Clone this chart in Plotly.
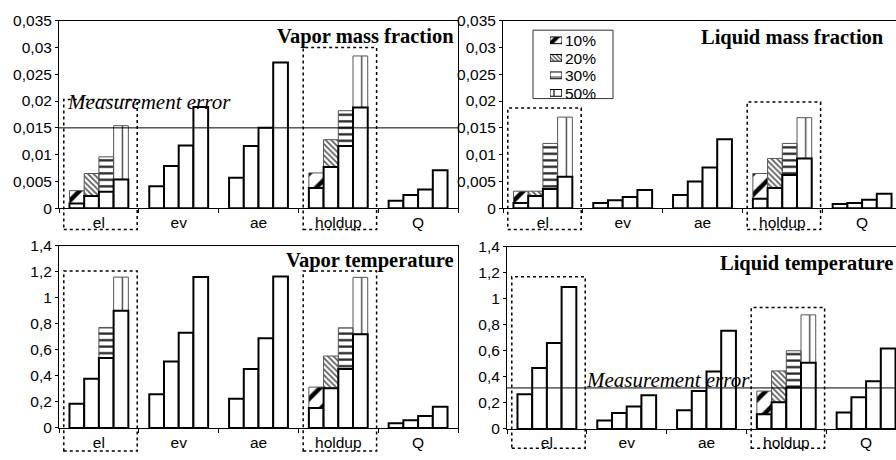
import plotly.graph_objects as go

categories = ["el", "ev", "ae", "holdup", "Q"]
levels = ["10%", "20%", "30%", "50%"]

# ---- Vapor mass fraction (rows = levels, cols = categories)
vmf_base = [
    [0.0009, 0.0041, 0.0057, 0.0038, 0.0014],
    [0.0023, 0.0079, 0.0116, 0.0077, 0.0025],
    [0.0031, 0.0117, 0.0150, 0.0116, 0.0035],
    [0.0054, 0.0189, 0.0272, 0.0188, 0.0071],
]
vmf_top = [
    [0.0033, None, None, 0.0066, None],
    [0.0065, None, None, 0.0128, None],
    [0.0096, None, None, 0.0182, None],
    [0.0154, None, None, 0.0284, None],
]
vmf_box_top = [0.0203, 0.0300]
vmf_error = 0.015

# ---- Liquid mass fraction
lmf_base = [
    [0.0010, 0.0010, 0.0025, 0.0018, 0.0008],
    [0.0023, 0.0015, 0.0050, 0.0038, 0.0010],
    [0.0036, 0.0021, 0.0076, 0.0062, 0.0016],
    [0.0059, 0.0034, 0.0129, 0.0093, 0.0027],
]
lmf_top = [
    [0.0032, None, None, 0.0065, None],
    [0.0032, None, None, 0.0093, None],
    [0.0121, None, None, 0.0121, None],
    [0.0170, None, None, 0.0169, None],
]
lmf_box_top = [0.0187, 0.0198]

# ---- Vapor temperature
vt_base = [
    [0.185, 0.259, 0.225, 0.153, 0.035],
    [0.378, 0.511, 0.454, 0.306, 0.059],
    [0.538, 0.733, 0.689, 0.454, 0.091],
    [0.901, 1.160, 1.165, 0.721, 0.163],
]
vt_top = [
    [None, None, None, 0.314, None],
    [None, None, None, 0.553, None],
    [0.773, None, None, 0.770, None],
    [1.160, None, None, 1.158, None],
]
vt_box_top = [1.207, 1.207]

# ---- Liquid temperature
lt_base = [
    [0.266, 0.064, 0.143, 0.113, 0.126],
    [0.468, 0.123, 0.291, 0.205, 0.244],
    [0.661, 0.173, 0.441, 0.318, 0.367],
    [1.092, 0.259, 0.754, 0.508, 0.619],
]
lt_top = [
    [None, None, None, 0.291, None],
    [None, None, None, 0.446, None],
    [None, None, None, 0.601, None],
    [None, None, None, 0.877, None],
]
lt_box_top = [1.17, 0.933]
lt_error = 0.315

W, H = 896, 460
CAT_PX = 79.8
GROUP_W = 0.7375
BAR_W = GROUP_W / 4

panels = [
    dict(base=vmf_base, top=vmf_top, box=vmf_box_top, x0=59, x1=458, yt=12, yb=207,
         ymax=0.035, dtick=0.005, ymirror=True, boxbot=229),
    dict(base=lmf_base, top=lmf_top, box=lmf_box_top, x0=503, x1=896, yt=12, yb=207,
         ymax=0.035, dtick=0.005, ymirror=False, boxbot=229),
    dict(base=vt_base, top=vt_top, box=vt_box_top, x0=59, x1=458, yt=246, yb=435,
         ymax=1.4, dtick=0.2, ymirror=True, boxbot=459),
    dict(base=lt_base, top=lt_top, box=lt_box_top, x0=507, x1=896, yt=247, yb=436,
         ymax=1.4, dtick=0.2, ymirror=False, boxbot=456),
]

patterns = [
    dict(shape="/", size=15, solidity=0.3, fgcolor="black"),
    dict(shape="\\", size=4, solidity=0.4, fgcolor="#555555"),
    dict(shape="-", size=6.5, solidity=0.35, fgcolor="#222222"),
    dict(shape="|", size=3 * CAT_PX / 17, solidity=0.1, fgcolor="#444444"),
]
legend_patterns = [
    dict(shape="/", size=9, solidity=0.45, fgcolor="black"),
    dict(shape="\\", size=3, solidity=0.4, fgcolor="#444444"),
    dict(shape="-", size=7, solidity=0.15, fgcolor="#333333"),
    dict(shape="|", size=8, solidity=0.18, fgcolor="#333333"),
]

fig = go.Figure()
shapes = []
layout_axes = {}
tickfont = dict(family="Liberation Sans, Arial", size=15.5, color="black")

for p, pn in enumerate(panels):
    s = "" if p == 0 else str(p + 1)
    xa, ya = "x" + s, "y" + s
    xr_end = -0.5 + (pn["x1"] - pn["x0"]) / CAT_PX
    # patterned extra segments
    for k in range(4):
        extra = [None if t is None else t - b for t, b in zip(pn["top"][k], pn["base"][k])]
        fig.add_trace(go.Bar(
            x=categories, y=extra, base=pn["base"][k], width=BAR_W,
            offset=-GROUP_W / 2 + k * BAR_W, name=levels[k], showlegend=False,
            marker=dict(color="white", line=dict(color="#555555", width=1),
                        pattern=dict(fillmode="replace", **patterns[k])),
            xaxis=xa, yaxis=ya, hoverinfo="skip"))
    # base bars
    for k in range(4):
        fig.add_trace(go.Bar(
            x=categories, y=pn["base"][k], width=BAR_W,
            offset=-GROUP_W / 2 + k * BAR_W, name=levels[k], showlegend=False,
            marker=dict(color="white", line=dict(color="black", width=2)),
            xaxis=xa, yaxis=ya, hoverinfo="skip"))

    layout_axes["xaxis" + s] = dict(
        domain=[pn["x0"] / W, pn["x1"] / W], range=[-0.5, xr_end], type="category",
        anchor=ya, showline=True, linecolor="black", linewidth=1, mirror=True,
        ticks="outside", ticklen=4, tickcolor="black", tickson="boundaries",
        showgrid=False, tickfont=tickfont, fixedrange=True)
    layout_axes["yaxis" + s] = dict(
        domain=[1 - pn["yb"] / H, 1 - pn["yt"] / H], range=[0, pn["ymax"]],
        tick0=0, dtick=pn["dtick"], anchor=xa, showline=True, linecolor="black",
        linewidth=1, mirror=pn["ymirror"], ticks="outside", ticklen=3,
        tickcolor="black", showgrid=False, zeroline=False, tickfont=tickfont,
        fixedrange=True)

    # dotted boxes around el and holdup
    span = xr_end + 0.5
    hpx = pn["yb"] - pn["yt"]
    for ci, topv in zip([0, 3], pn["box"]):
        shapes.append(dict(
            type="rect", xref=xa + " domain", yref=ya + " domain",
            x0=(ci - 0.44 + 0.5) / span, x1=(ci + 0.48 + 0.5) / span,
            y0=-(pn["boxbot"] - pn["yb"]) / hpx, y1=topv / pn["ymax"],
            line=dict(color="black", width=1.5, dash="dot"), fillcolor="rgba(0,0,0,0)",
            layer="above"))

# ---- hand-made legend (icons drawn as small bars on a hidden axis)
leg_rows = list(range(len(levels)))
for k in range(4):
    fig.add_trace(go.Bar(
        y=[leg_rows[k]], x=[1], base=[0], orientation="h", width=0.385,
        marker=dict(color="white", line=dict(color="black", width=1),
                    pattern=dict(fillmode="replace", **legend_patterns[k])),
        xaxis="x5", yaxis="y5", showlegend=False, hoverinfo="skip"))
layout_axes["xaxis5"] = dict(domain=[550 / W, 562 / W], range=[0, 1], visible=False,
                             anchor="y5", fixedrange=True)
layout_axes["yaxis5"] = dict(domain=[1 - 96.2 / H, 1 - 23.4 / H], range=[3.5, -0.5],
                             visible=False, anchor="x5", fixedrange=True)
shapes.insert(0, dict(type="rect", xref="paper", yref="paper", x0=533 / W, x1=613 / W,
                      y0=1 - 93 / H, y1=1 - 22 / H, line=dict(color="#333333", width=1),
                      fillcolor="white", layer="below"))

# measurement error lines
shapes.append(dict(type="line", xref="x domain", yref="y", x0=0, x1=1,
                   y0=vmf_error, y1=vmf_error, line=dict(color="black", width=1)))
shapes.append(dict(type="line", xref="x4 domain", yref="y4", x0=0, x1=1,
                   y0=lt_error, y1=lt_error, line=dict(color="black", width=1)))

title_font = dict(family="Liberation Serif, Times New Roman", size=20.5, color="black")
err_font = dict(family="Liberation Serif, Times New Roman", size=21, color="black")

annotations = [
    dict(text="<b>Vapor mass fraction</b>", x=456 / W, y=1 - 28.5 / H, xanchor="right"),
    dict(text="<b>Liquid mass fraction</b>", x=886 / W, y=1 - 30 / H, xanchor="right"),
    dict(text="<b>Vapor temperature</b>", x=456 / W, y=1 - 261.5 / H, xanchor="right"),
    dict(text="<b>Liquid temperature</b>", x=718 / W, y=1 - 264.5 / H, xanchor="left"),
]
for a in annotations:
    a.update(xref="paper", yref="paper", yanchor="middle", showarrow=False, font=title_font)
annotations += [
    dict(text="<i>Measurement error</i>", x=65 / W, y=1 - 97 / H, xref="paper", yref="paper",
         xanchor="left", yanchor="middle", showarrow=False, font=err_font),
    dict(text="<i>Measurement error</i>", x=584 / W, y=1 - 385 / H, xref="paper", yref="paper",
         xanchor="left", yanchor="middle", showarrow=False, font=err_font),
]
legend_text_y = [33, 51.5, 69.5, 87.5]
for k in range(4):
    annotations.append(dict(text=levels[k], x=563 / W, y=1 - legend_text_y[k] / H,
                            xref="paper", yref="paper", xanchor="left", yanchor="middle",
                            showarrow=False,
                            font=dict(family="Liberation Sans, Arial", size=15.5, color="black")))

fig.update_layout(
    width=W, height=H, margin=dict(l=0, r=0, t=0, b=0),
    paper_bgcolor="white", plot_bgcolor="rgba(0,0,0,0)",
    barmode="overlay", separators=",.", showlegend=False,
    shapes=shapes, annotations=annotations,
    **layout_axes,
)

fig.write_html("out.html", config={"displayModeBar": False, "staticPlot": True},
               post_script="document.body.style.margin='0px';")
